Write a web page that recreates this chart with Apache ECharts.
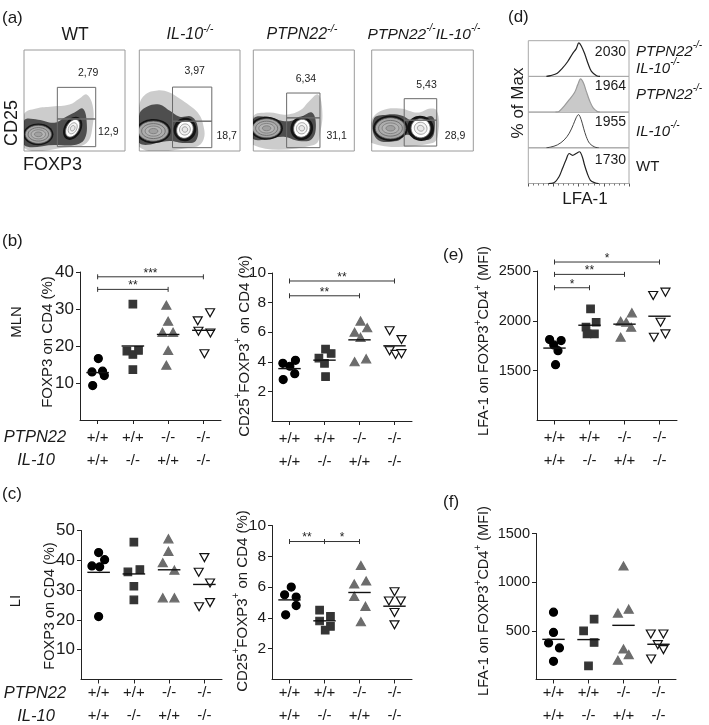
<!DOCTYPE html>
<html><head><meta charset="utf-8">
<script src="https://cdn.jsdelivr.net/npm/echarts@6/dist/echarts.min.js"></script>
<style>html,body{margin:0;padding:0;background:#fff}#c{width:709px;height:725px}</style>
</head><body><div id="c"></div>
<script>
const FONT = "'Liberation Sans', Arial, Helvetica, sans-serif";

// ---------- categories / tick labels ----------
const genotypes = ['WT', 'IL-10-/-', 'PTPN22-/-', 'PTPN22-/-IL-10-/-'];
const ptpn22Row = ['+/+', '+/+', '-/-', '-/-'];
const il10Row = ['+/+', '-/-', '+/+', '-/-'];

const yTicksB1 = [10, 20, 30, 40];
const yTicksB2 = [2, 4, 6, 8, 10];
const yTicksE = [1500, 2000, 2500];
const yTicksC1 = [10, 20, 30, 40, 50];
const yTicksC2 = [2, 4, 6, 8, 10];
const yTicksF = [500, 1000, 1500];

// ---------- (b) MLN, FOXP3 on CD4 (%) ----------
const mlnFoxp3WT = [16.6, 13.0, 13.2, 12.0, 9.3];
const mlnFoxp3IL10 = [31.3, 18.6, 17.7, 18.8, 13.6];
const mlnFoxp3PTPN22 = [31.0, 26.7, 23.7, 23.7, 18.8, 14.8];
const mlnFoxp3DKO = [26.8, 29.0, 24.0, 23.5, 17.9];
// ---------- (b) MLN, CD25+FOXP3+ on CD4 (%) ----------
const mlnTregWT = [3.9, 4.1, 3.7, 3.2, 2.8];
const mlnTregIL10 = [4.25, 4.85, 4.56, 3.9, 3.0];
const mlnTregPTPN22 = [6.75, 6.0, 6.3, 5.65, 4.0, 4.2];
const mlnTregDKO = [6.1, 5.5, 4.75, 4.5, 4.55];
// ---------- (e) MLN, LFA-1 MFI ----------
const mlnLfaWT = [1812, 1802, 1758, 1701, 1560];
const mlnLfaIL10 = [2120, 1936, 1986, 1869, 1869];
const mlnLfaPTPN22 = [2080, 1996, 1986, 1835, 1936];
const mlnLfaDKO = [2254, 2288, 1986, 1835, 1869];
// ---------- (c) LI, FOXP3 on CD4 (%) ----------
const liFoxp3WT = [42.6, 38.1, 37.8, 40.2, 21.1];
const liFoxp3IL10 = [46.1, 36.1, 36.9, 31.3, 26.7];
const liFoxp3PTPN22 = [47.2, 43.0, 39.2, 36.7, 27.4, 27.4];
const liFoxp3DKO = [40.9, 36.0, 32.4, 24.4, 25.8];
// ---------- (c) LI, CD25+FOXP3+ on CD4 (%) ----------
const liTregWT = [6.0, 5.5, 5.35, 4.8, 4.2];
const liTregIL10 = [4.5, 4.1, 3.8, 3.45, 3.2];
const liTregPTPN22 = [7.4, 6.2, 6.4, 5.4, 4.75, 3.75];
const liTregDKO = [5.7, 5.1, 5.1, 4.35, 3.55];
// ---------- (f) LI, LFA-1 MFI ----------
const liLfaWT = [692, 484, 375, 324, 187];
const liLfaIL10 = [500, 620, 380, 140];
const liLfaPTPN22 = [1166, 682, 723, 314, 198, 256];
const liLfaDKO = [467, 467, 358, 307, 211];

// horizontal spread of the dots inside each genotype column (category units)
const jitB1 = [[0.02, -0.16, 0.14, 0.19, -0.14], [0, -0.17, 0, 0.16, 0], [-0.05, 0, -0.16, 0.14, 0, -0.05], [-0.16, 0.19, -0.14, 0.2, 0.03]];
const jitB2 = [[-0.19, 0.17, 0.01, 0.15, -0.18], [-0.16, 0.03, 0.19, 0, 0.03], [0.03, -0.14, 0.22, 0.03, -0.14, 0.19], [-0.14, 0.2, -0.14, 0.03, 0.2]];
const jitE = [[-0.14, 0.19, -0.02, 0.1, 0.03], [0.03, -0.1, 0.19, -0.07, 0.14], [0.21, -0.11, 0.05, -0.11, 0.19], [-0.18, 0.17, 0.03, -0.16, 0.17]];
const jitC1 = [[0, -0.19, 0.03, 0.17, 0], [0, -0.17, 0.17, 0, 0], [-0.02, -0.02, -0.18, 0.15, -0.18, 0.15], [0, -0.16, 0.16, -0.15, 0.16]];
const jitC2 = [[0.05, -0.14, 0.19, 0.19, -0.11], [-0.14, 0.17, -0.14, 0.17, 0.02], [0.04, -0.15, 0.19, -0.15, 0.17, 0.04], [0, -0.16, 0.18, 0, 0]];
const jitF = [[0, 0, -0.14, 0.17, 0], [-0.14, 0.16, 0.16, 0], [0, -0.16, 0.15, 0, -0.16, 0.15], [-0.22, 0.14, -0.02, 0.14, -0.21]];

// significance brackets: [from group, to group, height, stars]
const sigB1 = [[1, 4, 38.7, '***'], [1, 3, 35.3, '**']];
const sigB2 = [[1, 4, 9.46, '**'], [1, 3, 8.46, '**']];
const sigE = [[1, 4, 2590, '*'], [1, 3, 2466, '**'], [1, 2, 2332, '*']];
const sigC1 = [];
const sigC2 = [[1, 2, 8.96, '**'], [2, 3, 8.96, '*']];
const sigF = [];

// ---------- (a) flow plots (axes 0-100 of each plot) ----------
const flowPercents = [['2,79', '12,9'], ['3,97', '18,7'], ['6,34', '31,1'], ['5,43', '28,9']];
const flowPercentAt = [[[63.6, 77.5], [83.5, 18.5]], [[55, 78.7], [86.8, 14.8]], [[52.1, 71], [82.5, 14.8]], [[54, 65.6], [82, 14.8]]];
const flowGates = [
  [[33, 31.7, 71, 63], [33, 4.3, 71, 31.7]],
  [[33, 29.5, 72, 63.3], [33, 3.3, 72, 29.5]],
  [[33, 32.8, 66, 57.4], [33, 3.3, 66, 32.8]],
  [[32, 30.5, 64, 51.8], [32, 4.9, 64, 30.5]]
];
// populations: [x, y, rx, ry, tilt deg, kind 0=FOXP3- 1=FOXP3+]
const flowPops = [
  [[14.2, 16.5, 13, 9, 0, 0], [48.2, 22.5, 6, 9.5, -30, 1]],
  [[14, 19.7, 15, 10, 0, 0], [45.3, 21.3, 8, 9, -30, 1]],
  [[13.2, 22.5, 14, 9.5, 0, 0], [48, 22.5, 8, 9, -20, 1]],
  [[18.5, 22.5, 15, 10.5, 0, 0], [48.2, 22.5, 9.5, 9.5, -20, 1]]
];
// sparse outer event cloud and dense inner cloud
const flowCloudsOuter = [
  [[0, 36], [12, 42], [28, 44], [45, 46], [55, 52], [62, 56], [68, 45], [68, 25], [62, 8], [45, 4], [0, 3]],
  [[0, 45], [6, 56], [18, 60], [30, 58], [40, 52], [50, 45], [58, 38], [63, 28], [64, 12], [55, 4], [0, 4]],
  [[0, 34], [15, 38], [32, 36], [46, 40], [56, 50], [64, 56], [68, 44], [67, 22], [60, 6], [0, 6]],
  [[0, 30], [10, 40], [28, 42], [45, 38], [58, 42], [64, 40], [66, 22], [60, 8], [0, 8]]
];
const flowCloudsInner = [
  [[0, 30], [14, 31], [30, 28], [40, 33], [50, 38], [58, 42], [62, 30], [60, 12], [50, 6], [30, 6], [0, 6]],
  [[0, 36], [8, 44], [20, 46], [30, 40], [40, 34], [52, 34], [58, 24], [56, 10], [45, 8], [30, 10], [0, 8]],
  [[0, 32], [14, 34], [28, 30], [38, 30], [48, 34], [58, 38], [62, 26], [58, 12], [45, 10], [30, 14], [0, 12]],
  [[2, 32], [15, 36], [30, 35], [40, 30], [50, 32], [60, 34], [62, 22], [58, 12], [45, 12], [35, 16], [25, 10], [5, 12]]
];

// ---------- (d) LFA-1 histograms (% of max) ----------
const histLabels = ['2030', '1964', '1955', '1730'];
const histDkoX = [18, 22, 28.8, 33.9, 39, 44, 47.5, 50.2, 52.5, 55.9, 59.3, 62.7, 67.8, 71.2];
const histDkoY = [0, 2, 9, 23, 41, 64, 77, 94, 86, 64, 36, 14, 2, 0];
const histPtpnX = [27, 30.5, 35.6, 40.7, 45.8, 49.2, 51.9, 54.9, 57.6, 61, 64.4, 68.5, 71];
const histPtpnY = [0, 2, 17, 35, 54, 77, 93, 81, 58, 31, 12, 2, 0];
const histIl10X = [18, 22, 28.8, 35.6, 40.7, 44.7, 47.5, 49.8, 52.5, 54.9, 57.6, 61, 66.1, 70];
const histIl10Y = [0, 2, 8, 22, 41, 65, 84, 93, 79, 55, 31, 12, 2, 0];
const histWtX = [20, 25.4, 30.5, 33.9, 37.3, 40.7, 44, 47.5, 50.8, 53.6, 55.9, 58.6, 61.7, 66.1, 70];
const histWtY = [0, 2, 19, 42, 65, 84, 79, 84, 89, 75, 51, 28, 9, 2, 0];

// ================= build =================
const INK = '#1a1a1a';
const panels = [
  { grid: { left: 80, top: 272, width: 141, height: 148 }, y: [0, 40, 10], ticks: yTicksB1, lab: 17, margin: 6,
    groups: [mlnFoxp3WT, mlnFoxp3IL10, mlnFoxp3PTPN22, mlnFoxp3DKO], jit: jitB1, sig: sigB1 },
  { grid: { left: 272, top: 273, width: 140, height: 148 }, y: [0, 10, 2], ticks: yTicksB2, lab: 15.5, margin: 6,
    groups: [mlnTregWT, mlnTregIL10, mlnTregPTPN22, mlnTregDKO], jit: jitB2, sig: sigB2 },
  { grid: { left: 537, top: 271, width: 140, height: 149.5 }, y: [1000, 2500, 500], ticks: yTicksE, lab: 14.5, margin: 6,
    groups: [mlnLfaWT, mlnLfaIL10, mlnLfaPTPN22, mlnLfaDKO], jit: jitE, sig: sigE },
  { grid: { left: 81, top: 530.5, width: 141, height: 149 }, y: [0, 50, 10], ticks: yTicksC1, lab: 17, margin: 2,
    groups: [liFoxp3WT, liFoxp3IL10, liFoxp3PTPN22, liFoxp3DKO], jit: jitC1, sig: sigC1 },
  { grid: { left: 272, top: 525.5, width: 140, height: 154 }, y: [0, 10, 2], ticks: yTicksC2, lab: 15.5, margin: 2,
    groups: [liTregWT, liTregIL10, liTregPTPN22, liTregDKO], jit: jitC2, sig: sigC2 },
  { grid: { left: 536, top: 533.5, width: 140, height: 146 }, y: [0, 1500, 500], ticks: yTicksF, lab: 14.5, margin: 2,
    groups: [liLfaWT, liLfaIL10, liLfaPTPN22, liLfaDKO], jit: jitF, sig: sigF }
];

const groupStyle = [
  { symbol: 'circle', size: 8, color: '#000', border: '#000', rot: 0 },
  { symbol: 'rect', size: 7.5, color: '#353535', border: '#353535', rot: 0 },
  { symbol: 'triangle', size: [9, 8], color: '#6c6c6c', border: '#6c6c6c', rot: 0 },
  { symbol: 'triangle', size: [9, 8], color: '#ffffff', border: '#111', rot: 180 }
];

const mean = a => a.reduce((s, v) => s + v, 0) / a.length;

const option = {
  animation: false, backgroundColor: '#fff', textStyle: { fontFamily: FONT },
  grid: [], xAxis: [], yAxis: [], series: [], graphic: { elements: [] }
};

panels.forEach((P, p) => {
  option.grid.push(Object.assign({ containLabel: false, outerBoundsMode: 'none' }, P.grid));
  option.xAxis.push({
    type: 'category', gridIndex: p, data: genotypes, boundaryGap: true,
    axisLine: { show: true, lineStyle: { color: '#222', width: 1 } },
    axisTick: { show: true, alignWithLabel: true, length: 4, lineStyle: { color: '#222' } },
    axisLabel: { formatter: (v, i) => ptpn22Row[i] + '\n' + il10Row[i], fontSize: 15, color: INK,
      fontFamily: FONT, margin: P.margin, lineHeight: 23, interval: 0 },
    splitLine: { show: false }
  });
  const xVal = option.xAxis.length;
  option.xAxis.push({ type: 'value', gridIndex: p, min: 0.5, max: 4.5, show: false });
  const yi = option.yAxis.length;
  option.yAxis.push({
    type: 'value', gridIndex: p, min: P.y[0], max: P.y[1], interval: P.y[2],
    axisLine: { show: true, lineStyle: { color: '#222', width: 1 } },
    axisTick: { show: true, length: 4, customValues: P.ticks, lineStyle: { color: '#222' } },
    axisLabel: { customValues: P.ticks, formatter: v => String(v), fontSize: P.lab, color: INK, fontFamily: FONT, margin: 6 },
    splitLine: { show: false }
  });
  P.groups.forEach((vals, g) => {
    const st = groupStyle[g];
    option.series.push({
      type: 'scatter', xAxisIndex: xVal, yAxisIndex: yi, silent: true, z: 3,
      data: vals.map((v, k) => [g + 1 + P.jit[g][k], v]),
      symbol: st.symbol, symbolSize: st.size, symbolRotate: st.rot,
      itemStyle: { color: st.color, borderColor: st.border, borderWidth: 1.2, opacity: 1 }
    });
  });
  option.series.push({
    type: 'custom', xAxisIndex: xVal, yAxisIndex: yi, silent: true, z: 5,
    data: P.groups.map((vals, g) => [g + 1, mean(vals)]),
    renderItem: (params, api) => {
      const a = api.coord([api.value(0) - 0.32, api.value(1)]);
      const b = api.coord([api.value(0) + 0.32, api.value(1)]);
      return { type: 'line', shape: { x1: a[0], y1: a[1], x2: b[0], y2: b[1] }, style: { stroke: '#111', lineWidth: 1.4 } };
    }
  });
  if (P.sig.length) {
    option.series.push({
      type: 'custom', xAxisIndex: xVal, yAxisIndex: yi, silent: true, z: 5, clip: false,
      data: P.sig.map(s => [s[0], s[1], s[2]]),
      renderItem: (params, api) => {
        const a = api.coord([api.value(0), api.value(2)]);
        const b = api.coord([api.value(1), api.value(2)]);
        const h = 2.5, stroke = '#333';
        return { type: 'group', children: [
          { type: 'line', shape: { x1: a[0], y1: a[1], x2: b[0], y2: b[1] }, style: { stroke, lineWidth: 1 } },
          { type: 'line', shape: { x1: a[0], y1: a[1] - h, x2: a[0], y2: a[1] + h }, style: { stroke, lineWidth: 1 } },
          { type: 'line', shape: { x1: b[0], y1: b[1] - h, x2: b[0], y2: b[1] + h }, style: { stroke, lineWidth: 1 } },
          { type: 'text', x: (a[0] + b[0]) / 2, y: a[1] - 3.5,
            style: { text: P.sig[params.dataIndex][3], fontSize: 12, fontFamily: FONT, fill: '#222',
              align: 'center', verticalAlign: 'middle', textAlign: 'center', textVerticalAlign: 'middle' } }
        ] };
      }
    });
  }
});

// ----- flow plots -----
const flowBoxes = [
  { left: 24, top: 50, width: 101, height: 101 },
  { left: 139.3, top: 50, width: 100.7, height: 101 },
  { left: 253.3, top: 50, width: 101, height: 101 },
  { left: 371.7, top: 50, width: 101.6, height: 101 }
];
function ell(rx, ry, fill, stroke) {
  return { type: 'ellipse', shape: { cx: 0, cy: 0, rx, ry }, style: { fill, stroke: stroke || null, lineWidth: 0.8 } };
}
flowBoxes.forEach((B, f) => {
  const gi = option.grid.length;
  option.grid.push(Object.assign({ show: true, borderColor: '#9a9a9a', borderWidth: 1, backgroundColor: 'transparent',
    containLabel: false, outerBoundsMode: 'none' }, B));
  const xi = option.xAxis.length, yi = option.yAxis.length;
  option.xAxis.push({ type: 'value', gridIndex: gi, min: 0, max: 100, show: false });
  option.yAxis.push({ type: 'value', gridIndex: gi, min: 0, max: 100, show: false });
  option.series.push({
    type: 'custom', xAxisIndex: xi, yAxisIndex: yi, silent: true, clip: true, data: [[50, 50]],
    renderItem: (params, api) => {
      const ch = [];
      ch.push({ type: 'polygon', shape: { points: flowCloudsOuter[f].map(pt => api.coord(pt)), smooth: 0.4 },
        style: { fill: 'rgba(0,0,0,0.2)' } });
      ch.push({ type: 'polygon', shape: { points: flowCloudsInner[f].map(pt => api.coord(pt)), smooth: 0.4 },
        style: { fill: 'rgba(0,0,0,0.62)' } });
      flowPops[f].forEach(pp => {
        const c = api.coord([pp[0], pp[1]]);
        const s = api.size([pp[2], pp[3]]);
        const kids = [];
        if (pp[5] === 0) {
          kids.push(ell(s[0] * 1.15, s[1] * 1.2, '#141414'));
          kids.push(ell(s[0], s[1], '#a6a6a6', '#555'));
          kids.push(ell(s[0] * 0.78, s[1] * 0.74, '#adadad', '#666'));
          kids.push(ell(s[0] * 0.55, s[1] * 0.5, '#b4b4b4', '#777'));
          kids.push(ell(s[0] * 0.3, s[1] * 0.26, '#a0a0a0', '#777'));
        } else {
          kids.push(ell(s[0] * 1.4, s[1] * 1.3, '#141414'));
          kids.push(ell(s[0], s[1], '#ffffff', '#666'));
          kids.push(ell(s[0] * 0.66, s[1] * 0.62, '#f4f4f4', '#999'));
          kids.push(ell(s[0] * 0.35, s[1] * 0.3, '#e8e8e8', '#999'));
        }
        ch.push({ type: 'group', x: c[0], y: c[1], rotation: pp[4] * Math.PI / 180, children: kids });
      });
      flowGates[f].forEach(gt => {
        const tl = api.coord([gt[0], gt[3]]), br = api.coord([gt[2], gt[1]]);
        ch.push({ type: 'rect', shape: { x: tl[0], y: tl[1], width: br[0] - tl[0], height: br[1] - tl[1] },
          style: { fill: 'none', stroke: '#6a6a6a', lineWidth: 1 } });
      });
      flowPercents[f].forEach((t, k) => {
        const c = api.coord(flowPercentAt[f][k]);
        ch.push({ type: 'text', x: c[0], y: c[1], style: { text: t, fontSize: 10.5, fontFamily: FONT, fill: '#222',
          align: 'center', verticalAlign: 'middle', textAlign: 'center', textVerticalAlign: 'middle' } });
      });
      return { type: 'group', children: ch };
    }
  });
});

// ----- histograms -----
const histRows = [[histDkoX, histDkoY], [histPtpnX, histPtpnY], [histIl10X, histIl10Y], [histWtX, histWtY]];
const histTops = [40.7, 76.4, 112.1, 147.8];
histRows.forEach((H, r) => {
  const gi = option.grid.length;
  option.grid.push({ left: 528.3, top: histTops[r], width: 100.7, height: 35.7, show: true, borderColor: '#a8a8a8',
    borderWidth: 1, containLabel: false, outerBoundsMode: 'none' });
  const xi = option.xAxis.length, yi = option.yAxis.length;
  const last = r === histRows.length - 1;
  option.xAxis.push({
    type: 'value', gridIndex: gi, min: 0, max: 100, interval: 25, show: last,
    axisLine: { show: false }, axisLabel: { show: false }, splitLine: { show: false },
    axisTick: { show: true, length: 3, lineStyle: { color: '#555' } },
    minorTick: { show: true, splitNumber: 5, length: 2, lineStyle: { color: '#777' } }
  });
  option.yAxis.push({ type: 'value', gridIndex: gi, min: 0, max: 100, show: false });
  option.series.push({
    type: 'line', xAxisIndex: xi, yAxisIndex: yi, silent: true, showSymbol: false, symbol: 'none', smooth: 0.35,
    data: H[0].map((x, k) => [x, H[1][k]]),
    lineStyle: { color: r === 1 ? '#9a9a9a' : (r === 2 ? '#444' : '#222'), width: r === 2 ? 1 : 1.2 },
    areaStyle: r === 1 ? { color: '#c9c9c9', opacity: 1 } : undefined
  });
});

// ----- free text -----
function R(size, italic) {
  const fs = italic ? 'italic' : 'normal';
  const sm = Math.round(size * 0.66);
  return {
    b: { fontSize: size, lineHeight: size + 4, verticalAlign: 'bottom', fontFamily: FONT, fontStyle: fs, fill: INK, color: INK },
    s: { fontSize: sm, lineHeight: sm, verticalAlign: 'top', fontFamily: FONT, fontStyle: fs, fill: INK, color: INK }
  };
}
function T(x, y, text, o) {
  o = o || {};
  const al = o.align || 'center';
  return { type: 'text', x, y, rotation: o.rot || 0, silent: true, z: 50,
    style: { text, fontSize: o.size || 15, fontFamily: FONT, fontStyle: o.italic ? 'italic' : 'normal', fill: INK,
      align: al, textAlign: al, verticalAlign: 'middle', textVerticalAlign: 'middle', rich: o.rich } };
}
const UP = Math.PI / 2;
const G = option.graphic.elements;
// panel letters
G.push(T(2, 18.5, '(a)', { size: 17, align: 'left' }));
G.push(T(2, 241.5, '(b)', { size: 17, align: 'left' }));
G.push(T(2, 494, '(c)', { size: 17, align: 'left' }));
G.push(T(508, 17, '(d)', { size: 17, align: 'left' }));
G.push(T(443, 255, '(e)', { size: 17, align: 'left' }));
G.push(T(443, 502.5, '(f)', { size: 17, align: 'left' }));
// (a)
G.push(T(75, 35, 'WT', { size: 17.5 }));
G.push(T(190, 33, '{b|IL-10}{s|-/-}', { rich: R(16, true) }));
G.push(T(302, 33, '{b|PTPN22}{s|-/-}', { rich: R(16, true) }));
G.push(T(424, 33, '{b|PTPN22}{s|-/-}{b|IL-10}{s|-/-}', { rich: R(15.5, true) }));
G.push(T(12, 123, 'CD25', { size: 18, rot: UP }));
G.push(T(23, 165, 'FOXP3', { size: 18, align: 'left' }));
// (d)
const histY = [52, 86.5, 122.5, 160.5];
histLabels.forEach((t, k) => G.push(T(626, histY[k], t, { size: 14, align: 'right' })));
G.push(T(636, 49.5, '{b|PTPN22}{s|-/-}', { rich: R(15, true), align: 'left' }));
G.push(T(636, 66.5, '{b|IL-10}{s|-/-}', { rich: R(15, true), align: 'left' }));
G.push(T(636, 93, '{b|PTPN22}{s|-/-}', { rich: R(15, true), align: 'left' }));
G.push(T(636, 130, '{b|IL-10}{s|-/-}', { rich: R(15, true), align: 'left' }));
G.push(T(636, 166.5, 'WT', { size: 15, align: 'left' }));
G.push(T(518, 103, '% of Max', { size: 17, rot: UP }));
G.push(T(585, 199, 'LFA-1', { size: 17 }));
// (b)(c) row labels and axis names
G.push(T(17, 322, 'MLN', { size: 15, rot: UP }));
G.push(T(16, 601, 'LI', { size: 15, rot: UP }));
[[437.5, 460.5], [693, 716.7]].forEach(r => {
  G.push(T(35, r[0], 'PTPN22', { size: 16.5, italic: true }));
  G.push(T(36, r[1], 'IL-10', { size: 16.5, italic: true }));
});
G.push(T(48, 342, 'FOXP3 on CD4 (%)', { size: 15, rot: UP }));
G.push(T(50, 606, 'FOXP3 on CD4 (%)', { size: 14.5, rot: UP }));
G.push(T(243, 346, '{b|CD25}{s|+}{b|FOXP3}{s|+}{b| on CD4 (%)}', { rich: R(15, false), rot: UP }));
G.push(T(241, 601, '{b|CD25}{s|+}{b|FOXP3}{s|+}{b| on CD4 (%)}', { rich: R(15, false), rot: UP }));
G.push(T(482, 341, '{b|LFA-1 on FOXP3}{s|+}{b|CD4}{s|+}{b| (MFI)}', { rich: R(14.5, false), rot: UP }));
G.push(T(482, 601, '{b|LFA-1 on FOXP3}{s|+}{b|CD4}{s|+}{b| (MFI)}', { rich: R(14.5, false), rot: UP }));

const chart = echarts.init(document.getElementById('c'), null, { renderer: 'canvas' });
chart.setOption(option);
</script>
</body></html>
